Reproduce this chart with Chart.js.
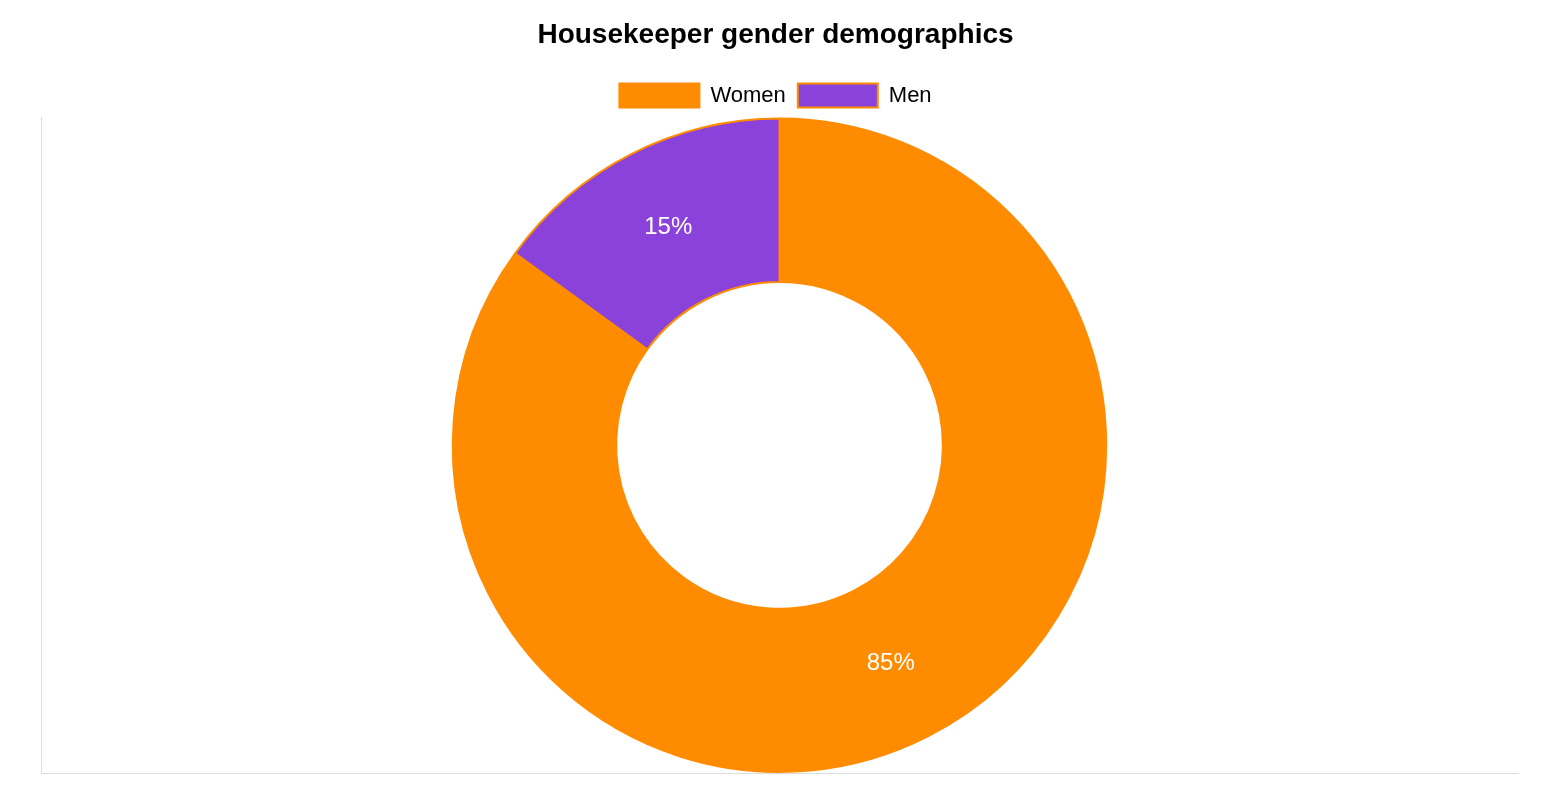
<!DOCTYPE html>
<html>
<head>
<meta charset="utf-8">
<script src="https://cdn.jsdelivr.net/npm/chart.js@4"></script>
<style>
  html, body { margin: 0; padding: 0; background: #fff; }
  #wrap { width: 1548px; height: 806px; }
</style>
</head>
<body>
<div id="wrap"><canvas id="chart"></canvas></div>
<script>
  const labels = ["Women", "Men"];
  const shares = [85, 15];
  const colors = ["#ff8c00", "#8a42db"];

  // draws "NN%" in the middle of each slice
  const sliceLabels = {
    id: "sliceLabels",
    afterDatasetsDraw(chart) {
      const ctx = chart.ctx;
      const meta = chart.getDatasetMeta(0);
      ctx.save();
      ctx.fillStyle = "#fff";
      ctx.font = "24px 'Liberation Sans', Arial, sans-serif";
      ctx.textAlign = "center";
      ctx.textBaseline = "middle";
      meta.data.forEach((arc, i) => {
        const p = arc.tooltipPosition();
        ctx.fillText(shares[i] + "%", p.x, p.y);
      });
      ctx.restore();
    },
  };

  Chart.defaults.font.family = "'Liberation Sans', Arial, sans-serif";

  new Chart(document.getElementById("chart"), {
    type: "doughnut",
    data: {
      labels: labels,
      datasets: [{
        data: shares,
        backgroundColor: colors,
        borderColor: "#ff8c00",
        borderWidth: 2,
      }],
    },
    options: {
      responsive: true,
      maintainAspectRatio: false,
      animation: false,
      cutout: "50%",
      layout: { padding: { left: 33, right: 30, bottom: 25 } },
      scales: {
        x: { display: true, ticks: { display: false }, grid: { display: false }, border: { color: "#ddd" } },
        y: { display: true, ticks: { display: false }, grid: { display: false }, border: { color: "#ddd" } },
      },
      plugins: {
        title: {
          display: true,
          text: "Housekeeper gender demographics",
          color: "#000",
          font: { size: 28, weight: "bold" },
          padding: { top: 18, bottom: 20 },
        },
        legend: {
          position: "top",
          labels: { color: "#000", font: { size: 22 }, boxWidth: 80, boxHeight: 24, padding: 12 },
        },
        tooltip: { enabled: false },
      },
    },
    plugins: [sliceLabels],
  });
</script>
</body>
</html>
